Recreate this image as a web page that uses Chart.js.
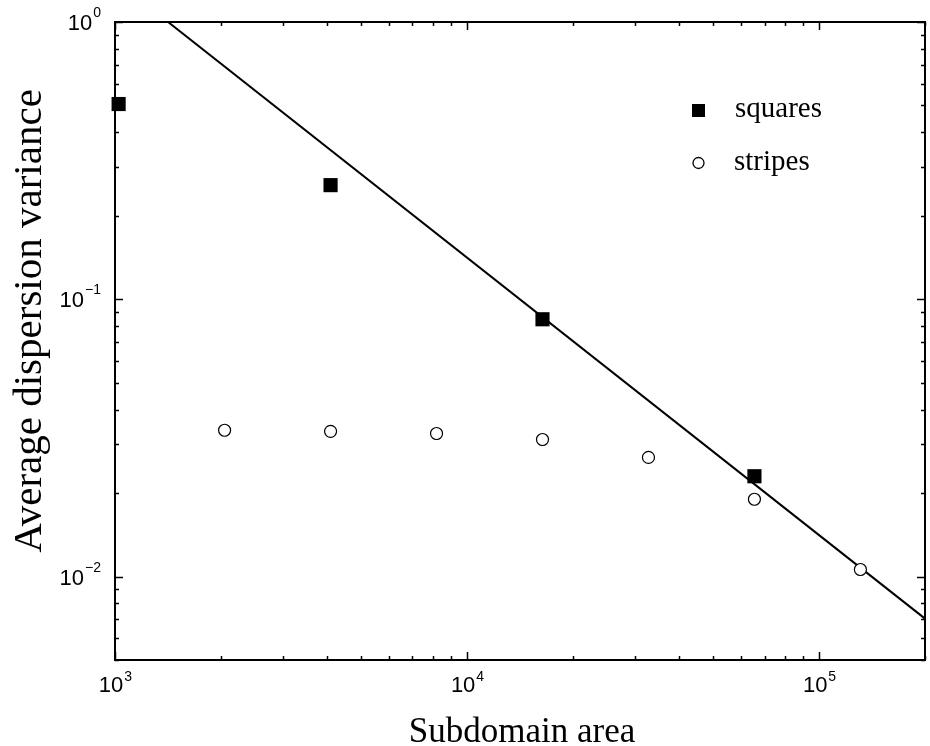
<!DOCTYPE html>
<html>
<head>
<meta charset="utf-8">
<script src="https://cdn.jsdelivr.net/npm/chart.js@4.4.1/dist/chart.umd.min.js"></script>
<style>
  html, body { margin: 0; padding: 0; background: #fff; }
  #wrap { width: 930px; height: 746px; }
</style>
</head>
<body>
<div id="wrap"><canvas id="myChart" width="930" height="746"></canvas></div>
<script>
// squares: subdomain area vs average dispersion variance
const squareAreas = [1024, 4096, 16384, 65536];
const squareVar = [0.506, 0.258, 0.0847, 0.023];

// stripes
const stripeAreas = [2048, 4096, 8192, 16384, 32768, 65536, 131072];
const stripeVar = [0.0337, 0.0334, 0.0328, 0.0312, 0.0269, 0.019, 0.0106];

// fitted line (end points)
const fitAreas = [1415, 200000];
const fitVar = [1, 0.00705];

// tick labels: powers of ten
const xExponents = [3, 4, 5];
const yExponents = [0, -1, -2];

const xMin = 1000, xMax = 200000;
const yMin = 0.005, yMax = 1;

const toPoints = (xs, ys) => xs.map((x, i) => ({x: x, y: ys[i]}));

const sansFont = '"Liberation Sans", Arial, sans-serif';
const serifFont = '"Liberation Serif", "Times New Roman", serif';

function expText(e) {
    return e < 0 ? '\u2212' + Math.abs(e) : String(e);
}

// minor/major tick values for a log axis
function logTicks(min, max) {
    let out = [];
    for (let e = Math.floor(Math.log10(min)); e <= Math.ceil(Math.log10(max)); e++) {
        for (let m = 1; m < 10; m++) {
            const v = m * Math.pow(10, e);
            if (v >= min * 0.999 && v <= max * 1.001) out.push({v: v, major: m === 1});
        }
    }
    return out;
}

const framePlugin = {
    id: 'frame',
    afterDraw(chart) {
        const ctx = chart.ctx;
        const a = chart.chartArea;
        const xs = chart.scales.x, ys = chart.scales.y;
        ctx.save();
        ctx.strokeStyle = '#000';
        ctx.lineWidth = 2;
        ctx.strokeRect(a.left, a.top, a.right - a.left, a.bottom - a.top);

        ctx.lineWidth = 1.5;
        ctx.beginPath();
        logTicks(xMin, xMax).forEach(t => {
            const px = Math.round(xs.getPixelForValue(t.v)) + 0.5;
            const len = t.major ? 8 : 4;
            ctx.moveTo(px, a.bottom); ctx.lineTo(px, a.bottom - len);
            ctx.moveTo(px, a.top); ctx.lineTo(px, a.top + len);
        });
        logTicks(yMin, yMax).forEach(t => {
            const py = Math.round(ys.getPixelForValue(t.v)) + 0.5;
            const len = t.major ? 8 : 4;
            ctx.moveTo(a.left, py); ctx.lineTo(a.left + len, py);
            ctx.moveTo(a.right, py); ctx.lineTo(a.right - len, py);
        });
        ctx.stroke();

        // tick labels 10^n
        ctx.fillStyle = '#000';
        ctx.textBaseline = 'alphabetic';
        const big = '22px ' + sansFont, small = '14px ' + sansFont;
        xExponents.forEach(e => {
            const px = xs.getPixelForValue(Math.pow(10, e));
            ctx.font = big;
            const w1 = ctx.measureText('10').width;
            ctx.font = small;
            const w2 = ctx.measureText(expText(e)).width;
            const x0 = px - (w1 + w2) / 2;
            ctx.font = big;
            ctx.textAlign = 'left';
            ctx.fillText('10', x0, a.bottom + 32);
            ctx.font = small;
            ctx.fillText(expText(e), x0 + w1 + 1, a.bottom + 21);
        });
        yExponents.forEach(e => {
            const py = ys.getPixelForValue(Math.pow(10, e));
            ctx.font = small;
            const w2 = ctx.measureText(expText(e)).width;
            const xr = a.left - 14;
            ctx.textAlign = 'left';
            ctx.fillText(expText(e), xr - w2, py - 5);
            ctx.font = big;
            ctx.textAlign = 'right';
            ctx.fillText('10', xr - w2 - 1, py + 8);
        });

        // axis titles
        ctx.textAlign = 'center';
        ctx.textBaseline = 'alphabetic';
        ctx.font = '35px ' + serifFont;
        ctx.fillText('Subdomain area', (a.left + a.right) / 2 + 2, 742);
        ctx.save();
        ctx.translate(41, 321);
        ctx.rotate(-Math.PI / 2);
        ctx.font = '41px ' + serifFont;
        ctx.fillText('Average dispersion variance', 0, 0);
        ctx.restore();

        // legend
        ctx.textAlign = 'left';
        ctx.textBaseline = 'middle';
        ctx.font = '29px ' + serifFont;
        ctx.fillRect(692, 104, 13, 13);
        ctx.fillText('squares', 735, 109);
        ctx.beginPath();
        ctx.arc(698.5, 163, 5.5, 0, Math.PI * 2);
        ctx.lineWidth = 1.3;
        ctx.stroke();
        ctx.fillText('stripes', 734, 162);
        ctx.restore();
    }
};

const data = {
    datasets: [
        {
            type: 'scatter',
            label: 'squares',
            data: toPoints(squareAreas, squareVar),
            pointStyle: 'rect',
            pointRadius: 10,
            pointHoverRadius: 10,
            backgroundColor: '#000',
            borderColor: '#000',
            borderWidth: 0,
            clip: false,
            order: 1
        },
        {
            type: 'scatter',
            label: 'stripes',
            data: toPoints(stripeAreas, stripeVar),
            pointStyle: 'circle',
            pointRadius: 6,
            pointHoverRadius: 6,
            backgroundColor: '#fff',
            borderColor: '#000',
            borderWidth: 1.2,
            order: 2
        },
        {
            type: 'line',
            label: 'fit',
            data: toPoints(fitAreas, fitVar),
            borderColor: '#000',
            borderWidth: 2,
            pointRadius: 0,
            fill: false,
            tension: 0,
            order: 3
        }
    ]
};

const config = {
    type: 'scatter',
    data: data,
    plugins: [framePlugin],
    options: {
        responsive: false,
        animation: false,
        layout: {
            autoPadding: false,
            padding: {left: 115, right: 5, top: 22, bottom: 86}
        },
        scales: {
            x: {type: 'logarithmic', min: xMin, max: xMax, display: false},
            y: {type: 'logarithmic', min: yMin, max: yMax, display: false}
        },
        plugins: {
            legend: {display: false},
            tooltip: {enabled: false}
        }
    }
};

const myChart = new Chart(document.getElementById('myChart').getContext('2d'), config);
</script>
</body>
</html>
